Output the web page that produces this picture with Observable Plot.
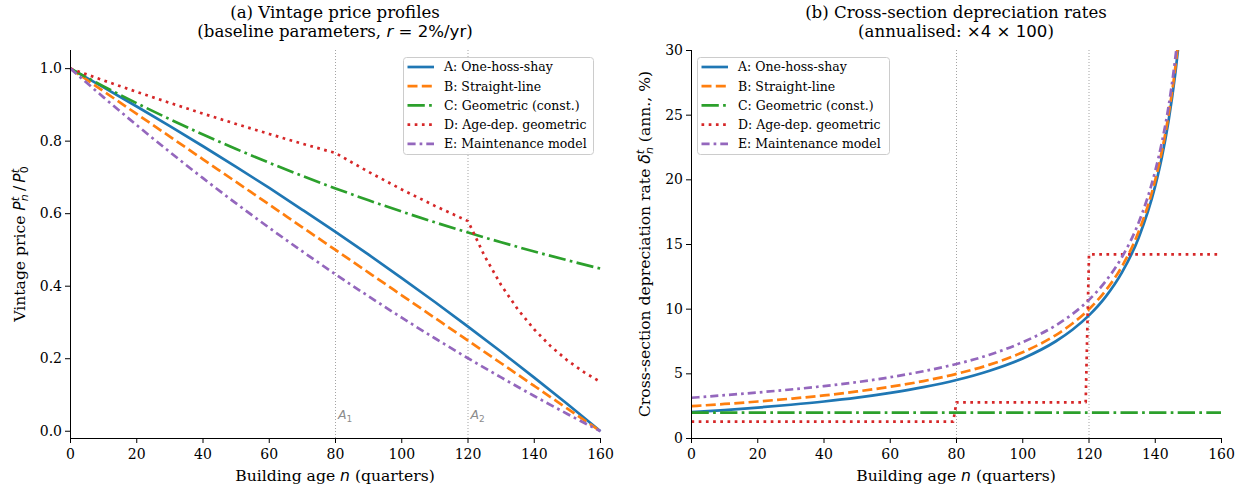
<!DOCTYPE html>
<html>
<head>
<meta charset="utf-8">
<script src="https://cdn.jsdelivr.net/npm/d3@7"></script>
<script src="https://cdn.jsdelivr.net/npm/@observablehq/plot@0.6"></script>
<style>
  body { margin: 0; background: #fff; }
  #wrap { position: relative; width: 1248px; height: 488px; font-family: "DejaVu Serif", serif; color: #000; overflow: hidden; }
  .panel { position: absolute; top: 0; width: 624px; height: 488px; }
  .title { position: absolute; top: 3px; text-align: center; font-size: 16.6px; line-height: 19px; white-space: nowrap; }
  .math { font-family: "DejaVu Sans", sans-serif; }
  .legend { position: absolute; }
</style>
</head>
<body>
<div id="wrap">
  <div class="panel" id="pa" style="left:0"></div>
  <div class="panel" id="pb" style="left:624px"></div>
  <div class="title" style="left:70px;width:530px">(a) Vintage price profiles<br>(baseline parameters, <span class="math"><i>r</i> = 2%/yr</span>)</div>
  <div class="title" style="left:691px;width:530px">(b) Cross-section depreciation rates<br>(annualised: <span class="math">×4 × 100</span>)</div>
  <svg class="legend" id="lga" style="left:403px;top:57px" width="191" height="99"></svg>
  <svg class="legend" id="lgb" style="left:697px;top:57px" width="193" height="99"></svg>
</div>
<script>
// ---------- data ----------
const seriesNames = ["A: One-hoss-shay", "B: Straight-line", "C: Geometric (const.)", "D: Age-dep. geometric", "E: Maintenance model"];
const xTicks = [0, 20, 40, 60, 80, 100, 120, 140, 160];
const priceTicks = [0, 0.2, 0.4, 0.6, 0.8, 1.0];
const rateTicks = [0, 5, 10, 15, 20, 25, 30];
const thresholds = [80, 120];
const thresholdSubs = ["1", "2"];
const thresholdLabelY = 0.044;

// panel (a): vintage price profiles
const ages = [0, 10, 20, 30, 40, 50, 60, 70, 80, 90, 100, 110, 120, 130, 140, 150, 160];
const priceA = [1, 0.9484, 0.8956, 0.8415, 0.7860, 0.7292, 0.6709, 0.6108, 0.5498, 0.4869, 0.4223, 0.3564, 0.2884, 0.2192, 0.1479, 0.0750, 0];
const priceB = [1, 0.9375, 0.875, 0.8125, 0.75, 0.6875, 0.625, 0.5625, 0.5, 0.4375, 0.375, 0.3125, 0.25, 0.1875, 0.125, 0.0625, 0];
const priceC = [1, 0.9511, 0.9046, 0.8604, 0.8183, 0.7783, 0.7403, 0.7041, 0.6697, 0.6369, 0.6058, 0.5762, 0.5480, 0.5212, 0.4957, 0.4715, 0.4484];
const priceE = [1, 0.9208, 0.8441, 0.7698, 0.6979, 0.6283, 0.5610, 0.4959, 0.4329, 0.3721, 0.3132, 0.2564, 0.2014, 0.1484, 0.0972, 0.0477, 0];
const agesD = [0, 10, 20, 30, 40, 50, 60, 70, 80, 90, 100, 110, 120, 125, 130, 135, 140, 145, 150, 155, 160];
const priceD = [1, 0.9674, 0.9359, 0.9054, 0.8759, 0.8474, 0.8197, 0.7930, 0.7672, 0.7152, 0.6667, 0.6215, 0.5794, 0.4833, 0.4032, 0.3364, 0.2806, 0.2341, 0.1953, 0.1629, 0.1359];

// panel (b): cross-section depreciation rates (annualised, %)
const rateAges = [0, 10, 20, 30, 40, 50, 60, 70, 80, 90, 100, 110, 115, 120, 125, 130, 135, 140, 142, 144, 146, 148];
const rateA = [2.04, 2.20, 2.39, 2.61, 2.86, 3.16, 3.53, 3.97, 4.52, 5.24, 6.19, 7.52, 8.41, 9.52, 10.95, 12.86, 15.53, 19.53, 21.75, 24.53, 28.11, 32.88];
const rateB = [2.5, 2.67, 2.86, 3.08, 3.33, 3.64, 4.0, 4.44, 5.0, 5.71, 6.67, 8.0, 8.89, 10.0, 11.43, 13.33, 16.0, 20.0, 22.22, 25.0, 28.57, 33.33];
const rateE = [3.15, 3.35, 3.56, 3.79, 4.05, 4.36, 4.74, 5.2, 5.76, 6.48, 7.45, 8.75, 9.62, 10.72, 12.15, 14.05, 16.7, 20.7, 22.9, 25.65, 29.3, 34.0];
const rateCAges = [0, 160];
const rateC = [2.0, 2.0];
const rateDAges = [0, 79, 80, 119, 120, 160];
const rateD = [1.3, 1.3, 2.8, 2.8, 14.24, 14.24];

// ---------- styles ----------
const LW = 2.7;
const styles = [
  {stroke: "#1f77b4", dash: null, curve: "monotone-x"},
  {stroke: "#ff7f0e", dash: "10,4.3", curve: "monotone-x"},
  {stroke: "#2ca02c", dash: "17.3,4.3,2.7,4.3", curve: "monotone-x"},
  {stroke: "#d62728", dash: "2.7,4.5", curve: "linear"},
  {stroke: "#9467bd", dash: "8.1,4,2.7,4", curve: "monotone-x"}
];

const tidy = (xs, ys) => xs.map((x, i) => ({age: x, value: ys[i]}));
const lineMark = (data, i, clip) => Plot.line(data, {
  x: "age", y: "value", stroke: styles[i].stroke, strokeWidth: LW,
  strokeDasharray: styles[i].dash, strokeLinecap: "butt", strokeLinejoin: "round",
  curve: styles[i].curve, clip: clip
});

const common = {
  width: 624, height: 488, marginTop: 50, marginBottom: 50,
  style: {fontFamily: "DejaVu Serif", fontSize: "14px", color: "#000", background: "transparent", overflow: "visible"}
};

// ---------- panel a ----------
const yMinA = -0.02;
const plotA = Plot.plot({
  ...common, marginLeft: 70, marginRight: 24,
  x: {domain: [0, 160]},
  y: {domain: [yMinA, 1.05]},
  marks: [
    Plot.ruleX(thresholds, {stroke: "#999", strokeWidth: 0.9, strokeDasharray: "1,2"}),
    lineMark(tidy(ages, priceA), 0),
    lineMark(tidy(ages, priceB), 1),
    lineMark(tidy(ages, priceC), 2),
    lineMark(tidy(agesD, priceD), 3),
    lineMark(tidy(ages, priceE), 4),
    Plot.ruleX([0], {stroke: "#000", strokeWidth: 1}),
    Plot.ruleY([yMinA], {stroke: "#000", strokeWidth: 1}),
    Plot.axisX({ticks: xTicks, tickSize: 5, tickPadding: 6, label: null}),
    Plot.axisY({ticks: priceTicks, tickSize: 5, tickPadding: 3.5, tickFormat: d3.format(".1f"), label: null})
  ]
});
document.getElementById("pa").appendChild(plotA);

// ---------- panel b ----------
const plotB = Plot.plot({
  ...common, marginLeft: 67, marginRight: 27,
  x: {domain: [0, 160]},
  y: {domain: [0, 30]},
  marks: [
    Plot.ruleX(thresholds, {stroke: "#999", strokeWidth: 0.9, strokeDasharray: "1,2"}),
    lineMark(tidy(rateAges, rateA), 0, true),
    lineMark(tidy(rateAges, rateB), 1, true),
    lineMark(tidy(rateCAges, rateC), 2, true),
    lineMark(tidy(rateDAges, rateD), 3, true),
    lineMark(tidy(rateAges, rateE), 4, true),
    Plot.ruleX([0], {stroke: "#000", strokeWidth: 1}),
    Plot.ruleY([0], {stroke: "#000", strokeWidth: 1}),
    Plot.axisX({ticks: xTicks, tickSize: 5, tickPadding: 6, label: null}),
    Plot.axisY({ticks: rateTicks, tickSize: 5, tickPadding: 3.5, label: null})
  ]
});
document.getElementById("pb").appendChild(plotB);

// ---------- threshold annotations (A1, A2) placed via the plot's scales ----------
{
  const sx = plotA.scale("x"), sy = plotA.scale("y");
  thresholds.forEach((t, i) => {
    const txt = d3.select(plotA).append("text")
      .attr("x", sx.apply(t) + 3).attr("y", sy.apply(thresholdLabelY)).attr("dy", "0.35em")
      .attr("text-anchor", "start")
      .attr("font-family", "DejaVu Sans").attr("font-size", 12.5).attr("fill", "#8c8c8c");
    txt.append("tspan").attr("font-style", "italic").text("A");
    txt.append("tspan").attr("font-size", 9).attr("dy", 3).text(thresholdSubs[i]);
  });
}

// ---------- axis labels with math ----------
const SANS = "DejaVu Sans";
function addLabel(svg, x, y, rotate, parts) {
  const t = d3.select(svg).append("text")
    .attr("transform", `translate(${x},${y})` + (rotate ? " rotate(-90)" : ""))
    .attr("text-anchor", "middle").attr("font-family", "DejaVu Serif")
    .attr("font-size", 15.6).attr("fill", "#000");
  parts.forEach(p => {
    const s = t.append("tspan").text(p.t);
    if (p.math) s.attr("font-family", SANS);
    if (p.it) s.attr("font-style", "italic");
    if (p.size) s.attr("font-size", p.size);
    if (p.dx) s.attr("dx", p.dx);
    if (p.dy) s.attr("dy", p.dy);
  });
}
const xLabelParts = [{t: "Building age "}, {t: "n", math: true, it: true}, {t: " (quarters)"}];
addLabel(plotA, 335, 481, false, xLabelParts);
addLabel(plotB, 332, 481, false, xLabelParts);
addLabel(plotA, 25, 244, true, [
  {t: "Vintage price "},
  {t: "P", math: true, it: true},
  {t: "t", math: true, it: true, size: 11, dy: -6.5},
  {t: "n", math: true, it: true, size: 11, dx: -4.3, dy: 9.5},
  {t: "\u2009/\u2009", math: true, dy: -3},
  {t: "P", math: true, it: true},
  {t: "t", math: true, it: true, size: 11, dy: -6.5},
  {t: "0", math: true, size: 11, dx: -4.3, dy: 9.5}
]);
addLabel(plotB, 26, 244, true, [
  {t: "Cross-section depreciation rate "},
  {t: "\u03b4", math: true, it: true},
  {t: "t", math: true, it: true, size: 11, dy: -6.5},
  {t: "n", math: true, it: true, size: 11, dx: -4.3, dy: 9.5},
  {t: " (ann., %)", dy: -3}
]);

// ---------- legends ----------
function drawLegend(id, w) {
  const g = d3.select("#" + id);
  g.append("rect").attr("x", 0.5).attr("y", 0.5).attr("width", w - 1).attr("height", 97)
    .attr("rx", 3).attr("fill", "rgba(255,255,255,0.85)").attr("stroke", "#cccccc").attr("stroke-width", 1);
  seriesNames.forEach((name, i) => {
    const y = 10 + i * 19.2;
    g.append("line").attr("x1", 4.5).attr("x2", 31).attr("y1", y).attr("y2", y)
      .attr("stroke", styles[i].stroke).attr("stroke-width", LW)
      .attr("stroke-dasharray", styles[i].dash).attr("stroke-linecap", "butt");
    g.append("text").attr("x", 41).attr("y", y).attr("dy", "0.35em")
      .attr("font-family", "DejaVu Serif").attr("font-size", 12.5).attr("fill", "#000").text(name);
  });
}
drawLegend("lga", 191);
drawLegend("lgb", 193);
</script>
</body>
</html>
